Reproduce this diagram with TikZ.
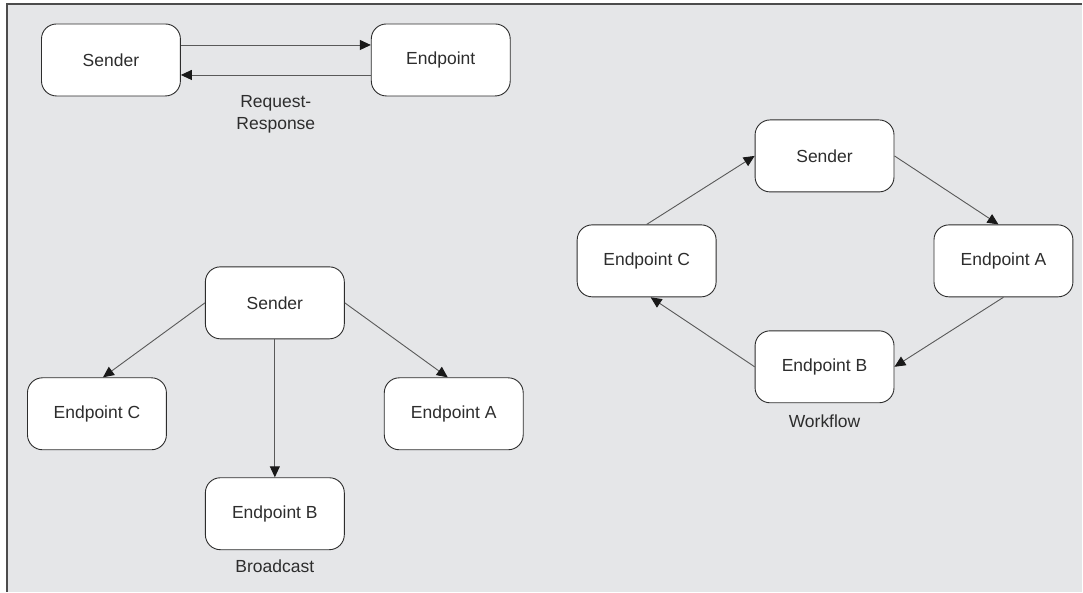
\documentclass[tikz,border=0pt]{standalone}
\usepackage{fontspec}
\setmainfont{Liberation Sans}
\usetikzlibrary{arrows.meta}
\definecolor{panel}{RGB}{229,230,232}
\definecolor{ink}{RGB}{45,45,45}

\begin{document}
\begin{tikzpicture}[
  x=1pt, y=-1pt,
  box/.style={draw=ink, fill=white, rounded corners=15pt, line width=0.9pt,
    minimum width=139pt, minimum height=72pt, text=ink,
    font=\fontsize{17.5}{20}\selectfont},
  link/.style={draw=black!65, line width=0.9pt,
    -{Triangle[length=11pt,width=10pt,color=black!90]}},
  caption/.style={text=ink, align=center, font=\fontsize{17.5}{22}\selectfont},
  ]

% panel
\fill[white] (0,0) rectangle (1083,592);
\fill[panel] (7,4) rectangle (1083,592);
\draw[black!70, line width=1.2pt] (7,592) -- (7,4) -- (1083,4);

% Request-Response
\node[box] (rrsender) at (111,60) {Sender};
\node[box] (rrendpoint) at (441,60) {Endpoint};
\draw[link] ([yshift=15pt]rrsender.east) -- ([yshift=15pt]rrendpoint.west);
\draw[link] ([yshift=-15pt]rrendpoint.west) -- ([yshift=-15pt]rrsender.east);
\node[caption] (rrlabel) at (276,114) {Request-\\Response};

% Broadcast
\node[box] (bcsender) at (275,303) {Sender};
\node[box] (bcC) at (97,414) {Endpoint C};
\node[box] (bcA) at (454,414) {Endpoint A};
\node[box] (bcB) at (275,514) {Endpoint B};
\draw[link] (bcsender.west) -- ([xshift=6pt]bcC.north);
\draw[link] (bcsender.east) -- ([xshift=-6pt]bcA.north);
\draw[link] (bcsender.south) -- (bcB.north);
\node[caption] (bclabel) at (275,567) {Broadcast};

% Workflow
\node[box] (wfsender) at (825,156) {Sender};
\node[box] (wfC) at (647,261) {Endpoint C};
\node[box] (wfA) at (1004,261) {Endpoint A};
\node[box] (wfB) at (825,367) {Endpoint B};
\draw[link] (wfC.north) -- (wfsender.west);
\draw[link] (wfsender.east) -- ([xshift=-5pt]wfA.north);
\draw[link] (wfA.south) -- (wfB.east);
\draw[link] (wfB.west) -- ([xshift=4pt]wfC.south);
\node[caption] (wflabel) at (825,421) {Workflow};

\end{tikzpicture}
\end{document}
